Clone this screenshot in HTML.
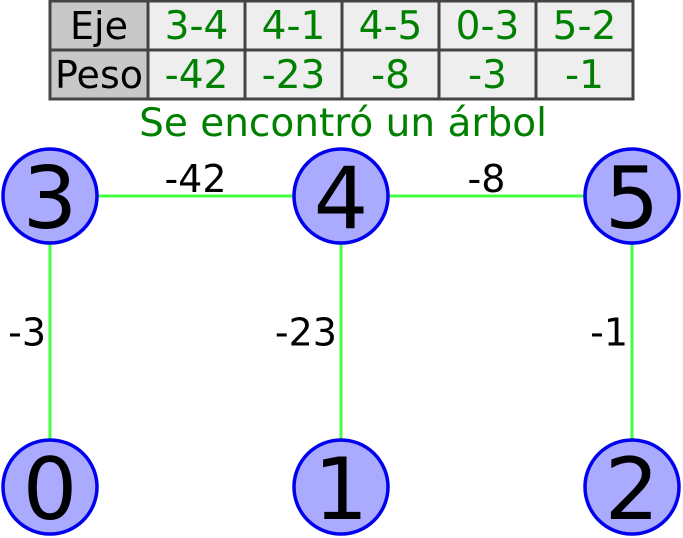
<!DOCTYPE html>
<html><head><meta charset="utf-8"><style>
body{margin:0;background:#fff}
svg{display:block;font-family:"DejaVu Sans","Liberation Sans",sans-serif}
</style></head><body>
<svg width="683" height="538" viewBox="0 0 683 538">
<g id="table"></g>
<text x="343" y="136" font-size="39" fill="#008000" text-anchor="middle">Se encontró un árbol</text>
<g id="edges"></g>
<g id="nodes"></g>
</svg>
<script>
const edgeNames=["3-4","4-1","4-5","0-3","5-2"];
const edgeWeights=["-42","-23","-8","-3","-1"];
const nodeIds=[0,1,2,3,4,5];
const nodeCol=[0,1,2,0,1,2];
const nodeRow=[1,1,1,0,0,0];
const treeEdges=[[3,4,"-42"],[4,5,"-8"],[0,3,"-3"],[4,1,"-23"],[5,2,"-1"]];
const NS="http://www.w3.org/2000/svg";
function mk(t,a,p){const e=document.createElementNS(NS,t);for(const k in a)e.setAttribute(k,a[k]);p.appendChild(e);return e;}
const tb=document.getElementById('table');
const colX=i=>i===0?50:148+97*(i-1);
const rowsLbl=["Eje","Peso"];
for(let r=0;r<2;r++){
  const y=1+r*49;
  const h=mk('rect',{x:50,y:y,width:98,height:49,fill:'#c8c8c8',stroke:'#444',"stroke-width":3},tb);
  
  
  const ht=mk('text',{x:99,y:y+38,"font-size":38,"text-anchor":"middle",fill:'#000'},tb);
  ht.textContent=rowsLbl[r];
  
  
  const vals=r===0?edgeNames:edgeWeights;
  vals.forEach((v,i)=>{
    const x=colX(i+1);
    const c=mk('rect',{x:x,y:y,width:97,height:49,fill:'#eeeeee',stroke:'#444',"stroke-width":3},tb);
    
    
    const t=mk('text',{x:x+48.5,y:y+38,"font-size":39,"text-anchor":"middle",fill:'#008000'},tb);
    t.textContent=v;
    
    
  });
}
const px=c=>50+291*c, py=r=>196+291*r;
const eg=document.getElementById('edges');
treeEdges.forEach(([a,b,w])=>{
  const x1=px(nodeCol[a]),y1=py(nodeRow[a]),x2=px(nodeCol[b]),y2=py(nodeRow[b]);
  const l=mk('line',{x1,y1,x2,y2,stroke:'#44ff44',"stroke-width":3},eg);
  
  
  let tx,ty,anchor='middle';
  if(y1===y2){tx=(x1+x2)/2;ty=y1-4;}else{tx=x1-4;ty=(y1+y2)/2+4;anchor='end';}
  const t=mk('text',{x:tx,y:ty,"font-size":38,"text-anchor":anchor,fill:'#000'},eg);
  t.textContent=w;
  
  
});
const ng=document.getElementById('nodes');
nodeIds.forEach((id,i)=>{
  const cx=px(nodeCol[i]),cy=py(nodeRow[i]);
  const c=mk('circle',{cx,cy,r:47,fill:'#aaaaff',stroke:'#0000ee',"stroke-width":3.5},ng);
  
  
  const t=mk('text',{x:cx,y:cy+32,"font-size":86,"text-anchor":"middle",fill:'#000'},ng);
  t.textContent=id;
  
  
});
</script>
</body></html>
